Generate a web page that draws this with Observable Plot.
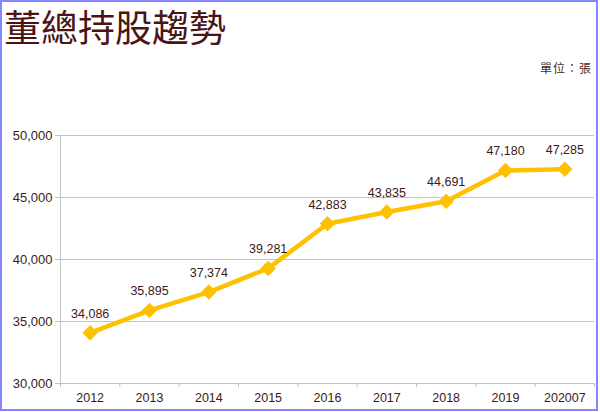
<!DOCTYPE html>
<html>
<head>
<meta charset="utf-8">
<script src="https://cdn.jsdelivr.net/npm/d3@7"></script>
<script src="https://cdn.jsdelivr.net/npm/@observablehq/plot@0.6"></script>
<style>
  html, body { margin: 0; padding: 0; background: #fff; }
  #wrap { position: relative; width: 600px; height: 412px; overflow: hidden; background: #fff; }
  #border { position: absolute; left: 0; top: 0; width: 594px; height: 407px; border: 2px solid #8585ff; pointer-events: none; }
  #title { position: absolute; left: 4px; top: 1px; font-family: "Noto Sans CJK TC", "Noto Sans"; font-size: 37px; color: #4a1414; line-height: 50px; }
  #unit { position: absolute; right: 8px; top: 59px; font-family: "Noto Sans CJK TC", "Noto Sans"; font-size: 12px; letter-spacing: 1px; color: #4a2a1a; }
  #chart { position: absolute; left: 0; top: 0; }
</style>
</head>
<body>
<div id="wrap">
  <div id="chart"></div>
  <div id="title">董總持股趨勢</div>
  <div id="unit">單位：張</div>
  <div id="border"></div>
</div>
<script>
const categories = ["2012", "2013", "2014", "2015", "2016", "2017", "2018", "2019", "202007"];
const values = [34086, 35895, 37374, 39281, 42883, 43835, 44691, 47180, 47285];
const yTicks = [30000, 35000, 40000, 45000, 50000];

const data = categories.map((c, i) => ({i, cat: c, v: values[i]}));
const boundaries = d3.range(categories.length + 1).map(k => k - 0.5);
const fmt = d3.format(",");
const textColor = "#3d1a16";

const chart = Plot.plot({
  width: 600,
  height: 412,
  marginLeft: 60,
  marginRight: 6,
  marginTop: 135,
  marginBottom: 29,
  style: {fontFamily: "Liberation Sans, Arial, sans-serif", fontSize: "12px", color: textColor, background: "transparent"},
  x: {type: "linear", domain: [-0.5, categories.length - 0.5]},
  y: {domain: [30000, 50000]},
  marks: [
    Plot.gridY(yTicks.slice(1), {stroke: "#c4c4c4", strokeOpacity: 1, strokeWidth: 1}),
    Plot.ruleX([-0.5], {stroke: "#c4c4c4"}),
    Plot.ruleY([30000], {stroke: "#c4c4c4"}),
    Plot.axisY({ticks: yTicks, tickFormat: fmt, tickSize: 5, tickPadding: 3, stroke: "#c4c4c4", fill: textColor, fontSize: 13, label: null}),
    Plot.axisX({ticks: boundaries, tickFormat: () => "", tickSize: 4, stroke: "#c4c4c4", label: null}),
    Plot.axisX({ticks: d3.range(categories.length), tickFormat: i => categories[i], tickSize: 0, tickPadding: 10, fill: textColor, fontSize: 12.5, label: null}),
    Plot.line(data, {x: "i", y: "v", stroke: "#FFC000", strokeWidth: 4.5, strokeLinejoin: "round"}),
    Plot.dot(data, {x: "i", y: "v", symbol: "diamond2", r: 6.5, fill: "#FFC000", stroke: "#FFC000", strokeWidth: 1}),
    Plot.text(data, {x: "i", y: "v", text: d => fmt(d.v), dy: -15, lineAnchor: "bottom", fill: textColor, fontSize: 12.5})
  ]
});
document.getElementById("chart").appendChild(chart);
</script>
</body>
</html>
